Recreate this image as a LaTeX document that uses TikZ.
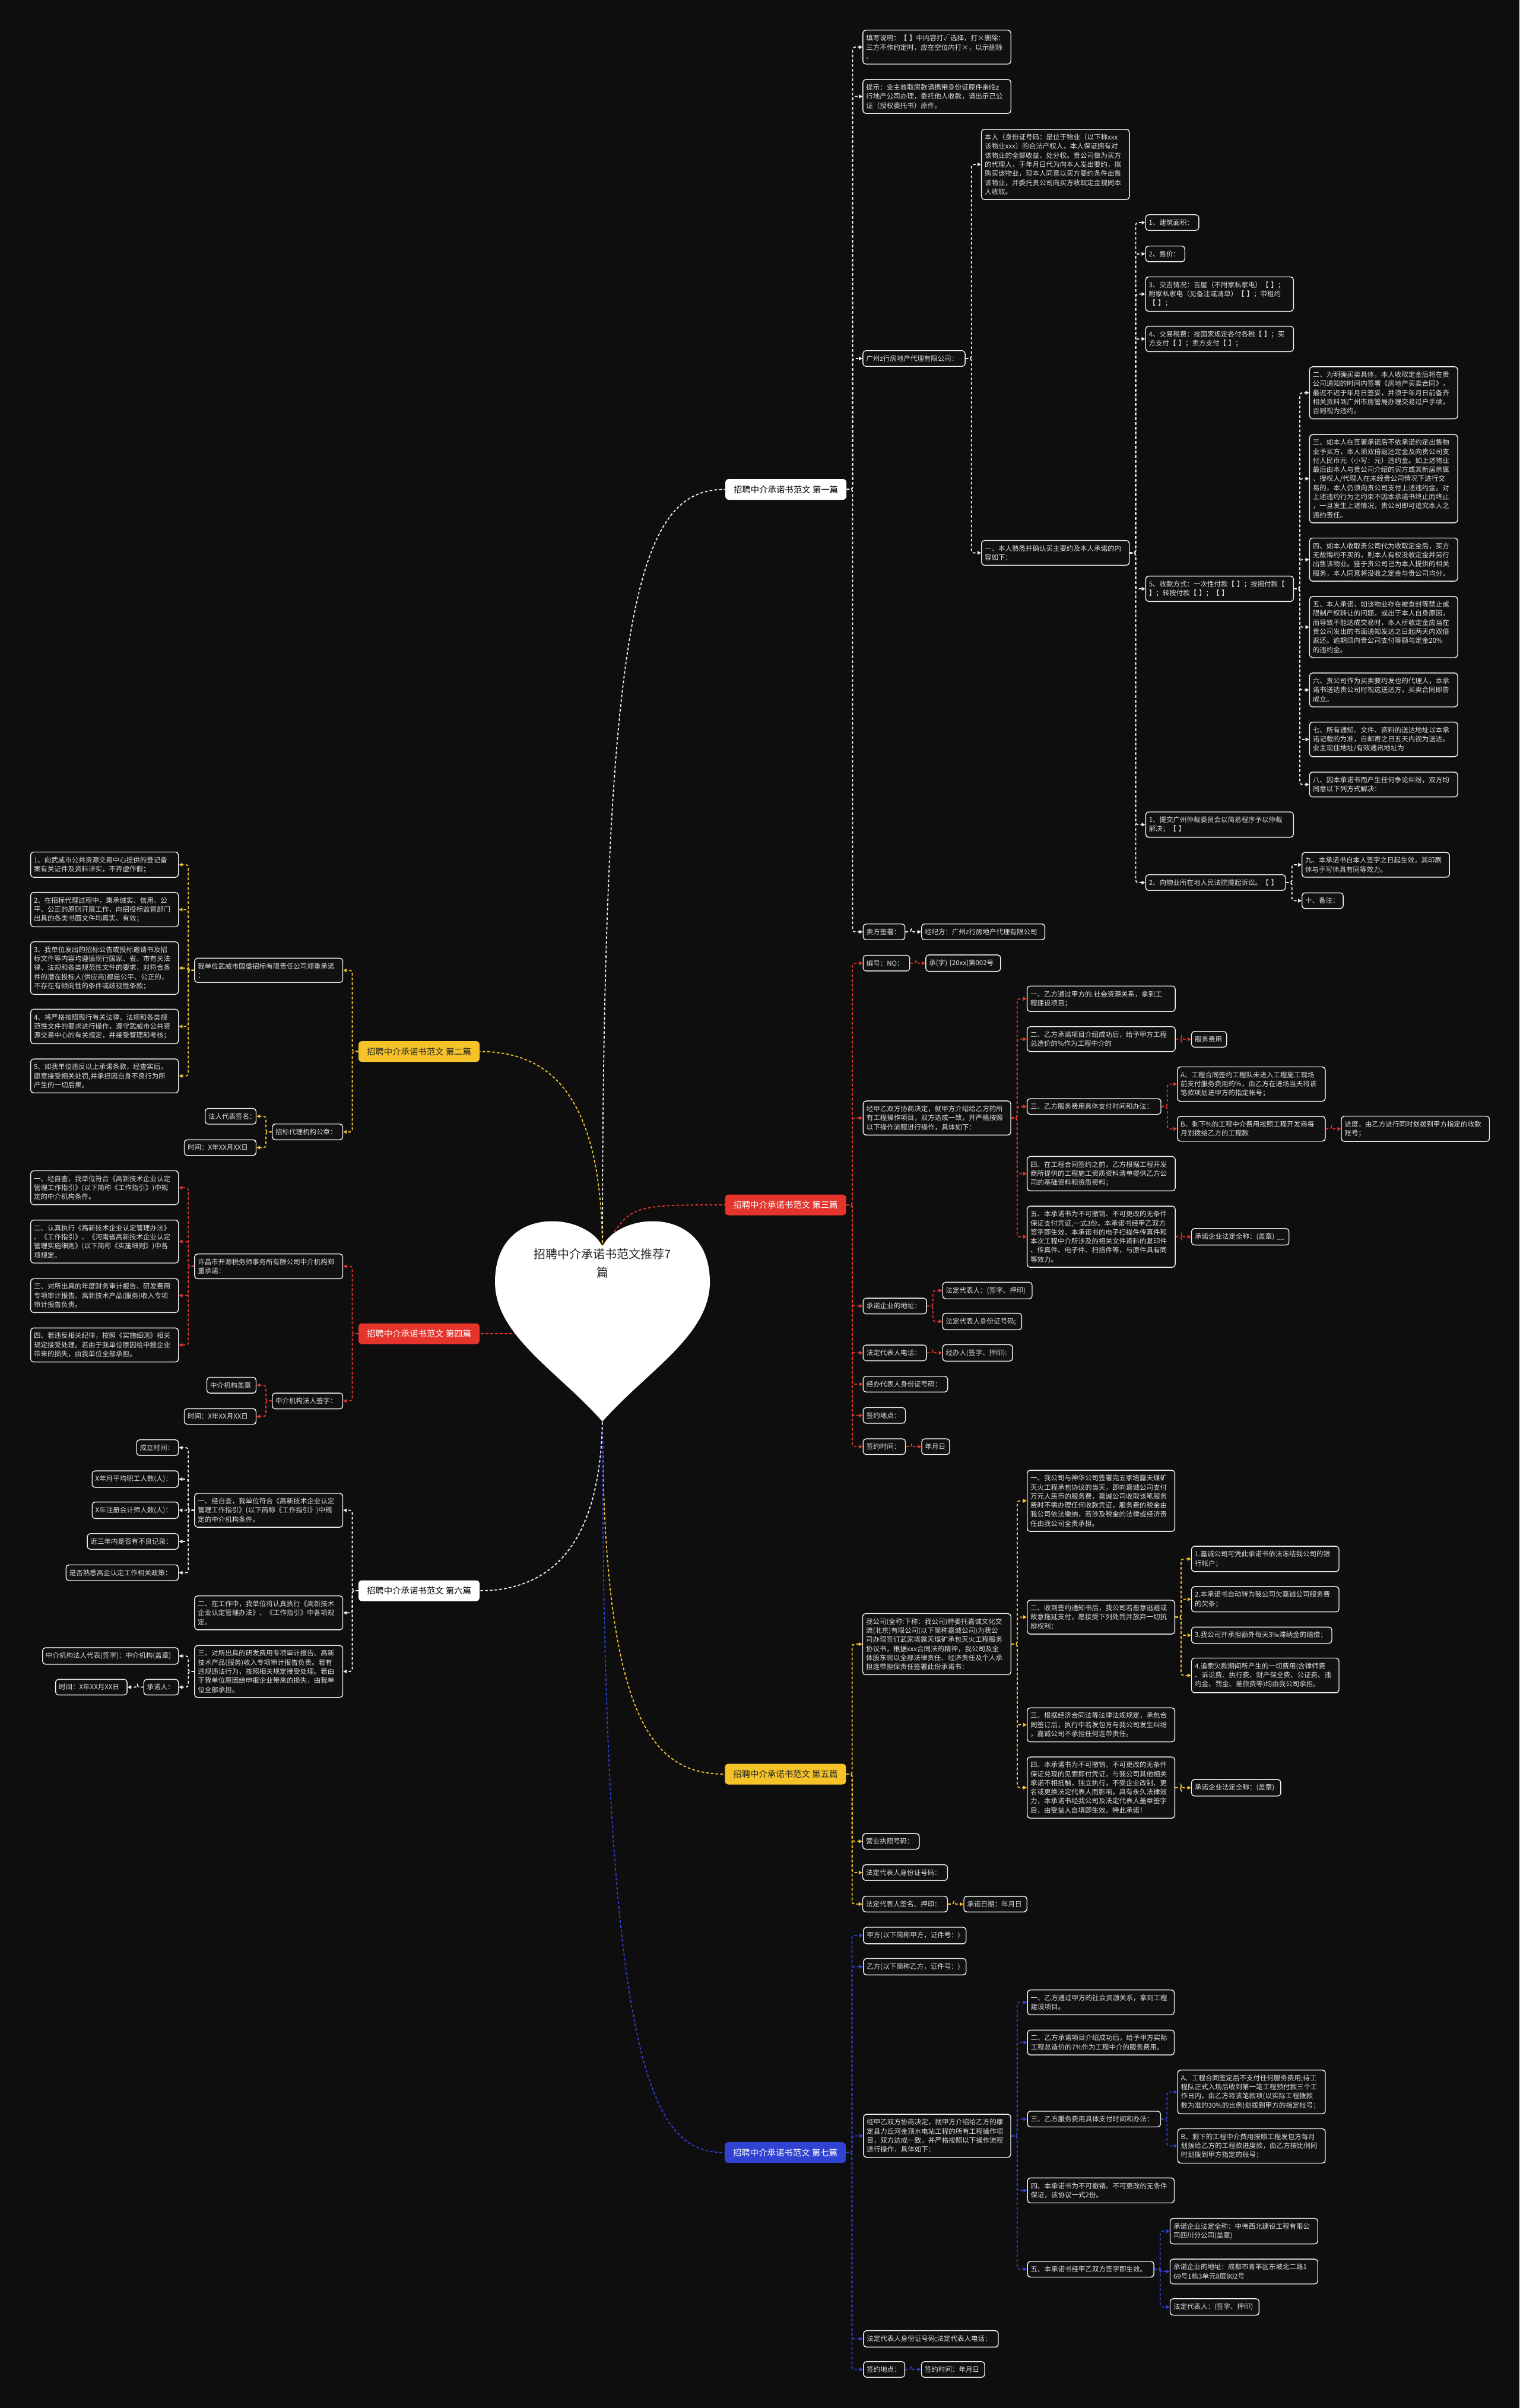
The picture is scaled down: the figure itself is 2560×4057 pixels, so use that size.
\documentclass[tikz,border=0pt]{standalone}
\usepackage{fontspec}
\setmainfont{Noto Sans CJK SC}
\usetikzlibrary{arrows.meta}
\definecolor{bgc}{RGB}{14,14,14}
\definecolor{boxf}{RGB}{17,17,17}
\definecolor{txt}{RGB}{222,222,222}
\definecolor{cw}{RGB}{240,240,240}
\definecolor{cy}{RGB}{245,195,40}
\definecolor{cr}{RGB}{228,52,44}
\definecolor{cb}{RGB}{48,66,210}
\pgfdeclarelayer{bg}
\pgfsetlayers{bg,main}
\tikzset{
 bx/.style={draw=cw, fill=boxf, text=txt, rounded corners=2.5pt, line width=0.7pt, align=left,
   inner xsep=2.75pt, inner ysep=3.95pt, font=\fontsize{5.75pt}{7.65pt}\selectfont, anchor=west},
 lab/.style={rounded corners=3pt, minimum height=17.5pt, inner xsep=7pt, inner ysep=0pt,
   font=\fontsize{7.2pt}{8pt}\selectfont},
 cn/.style={dash pattern=on 2.3pt off 1.7pt, line width=0.9pt, rounded corners=2pt,
   -{Triangle[length=3pt,width=3pt]}},
 rc/.style={dash pattern=on 2.3pt off 1.7pt, line width=0.9pt},
}
\newcommand\R[5]{\pgfmathsetlengthmacro\tw{(#4-11)*0.5pt}\node[bx,text width=\tw] (#1) at (#2,#3) {#5};}
\newcommand\CR[3]{\draw[cn,#1] (#2.east) -- ++(10,0) |- (#3.west);}
\newcommand\CL[3]{\draw[cn,#1] (#2.west) -- ++(-10,0) |- (#3.east);}
\begin{document}
\begin{tikzpicture}[x=0.5pt,y=-0.5pt]
\useasboundingbox (0,0) rectangle (2560,4057);
% ---------- branch labels
\node[lab, fill=white, text=black, anchor=east] (L1) at (1426.5,824.5) {招聘中介承诺书范文 第一篇};
\node[lab, fill=cy, text=black!85, anchor=west] (L2) at (603.6,1771.6) {招聘中介承诺书范文 第二篇};
\node[lab, fill=cr, text=white, anchor=east] (L3) at (1426,2030) {招聘中介承诺书范文 第三篇};
\node[lab, fill=cr, text=white, anchor=west] (L4) at (603.6,2247) {招聘中介承诺书范文 第四篇};
\node[lab, fill=cy, text=black!85, anchor=east] (L5) at (1425.8,2989) {招聘中介承诺书范文 第五篇};
\node[lab, fill=white, text=black, anchor=west] (L6) at (603.6,2680) {招聘中介承诺书范文 第六篇};
\node[lab, fill=cb, text=white, anchor=east] (L7) at (1425.5,3626.6) {招聘中介承诺书范文 第七篇};
\coordinate (rt) at (1015,2110);
\coordinate (rb) at (1015,2380);
\coordinate (rm) at (1015,2247);
\begin{pgfonlayer}{bg}
\fill[bgc] (0,0) rectangle (2560,4057);
\draw[rc,cw] (rt) .. controls (1015,1000) and (1080,824.5) .. (L1.west);
\draw[rc,cr] (rt) .. controls (1060,2030) .. (L3.west);
\draw[rc,cy] (rb) .. controls (1015,2900) and (1100,2989) .. (L5.west);
\draw[rc,cb] (rb) .. controls (1015,3500) and (1100,3626.6) .. (L7.west);
\draw[rc,cy] (rt) .. controls (1015,1850) and (930,1771.6) .. (L2.east);
\draw[rc,cr] (rm) -- (L4.east);
\draw[rc,cw] (rb) .. controls (1015,2600) and (930,2680) .. (L6.east);
\fill[white] (1015,2100) .. controls (1045,2040) and (1196,2030) .. (1196,2160)
  .. controls (1196,2250) and (1090,2310) .. (1015,2395)
  .. controls (940,2310) and (834,2250) .. (834,2160)
  .. controls (834,2030) and (985,2040) .. (1015,2100) -- cycle;
\end{pgfonlayer}
\node[align=center, text=black!85, font=\fontsize{10pt}{15.5pt}\selectfont] (root) at (1015,2128) {招聘中介承诺书范文推荐7\\篇};
% ---------- branch 1
\R{a1}{1453.2}{79.4}{249.3}{填写说明：【~】中内容打√选择，打×删除：\\三方不作约定时，应在空位内打×，以示删除\\。}
\R{a2}{1453.2}{162.5}{249.3}{提示：业主收取房款请携带身份证原件亲临z\\行地产公司办理，委托他人收款，请出示己公\\证（授权委托书）原件。}
\R{a3}{1453.2}{604}{172.2}{广州z行房地产代理有限公司：}
\R{a4}{1453.6}{1570}{70.4}{卖方签署：}
\R{a41}{1552}{1570}{207.7}{经纪方：广州z行房地产代理有限公司}
\R{a31}{1652.9}{277}{249.2}{本人（身份证号码：是位于物业（以下称xxx\\该物业xxx）的合法产权人，本人保证拥有对\\该物业的全部收益、处分权。贵公司做为买方\\的代理人，于年月日代为向本人发出要约，拟\\购买该物业，现本人同意以买方要约条件出售\\该物业，并委托贵公司向买方收取定金视同本\\人收取。}
\R{a32}{1653}{931.5}{249}{一、本人熟悉并确认买主要约及本人承诺的内\\容如下：}
\R{b1}{1929.5}{375}{89.6}{1、建筑面积：}
\R{b2}{1929.5}{427.7}{66}{2、售价：}
\R{b3}{1929.5}{495.5}{249.1}{3、交吉情况：吉屋（不附家私家电）【~】；\\附家私家电（见备注或清单）【~】；带租约\\【~】；}
\R{b4}{1929.5}{571}{249.1}{4、交易税费：按国家规定各付各税【~】；买\\方支付【~】；卖方支付【~】；}
\R{b5}{1929.6}{992}{249}{5、收款方式：一次性付款【~】；按揭付款【\\】；转按付款【~】；【~】}
\R{b6}{1929.6}{1389.3}{249}{1、提交广州仲裁委员会以简易程序予以仲裁\\解决；【~】}
\R{b7}{1929.6}{1487}{235.7}{2、向物业所在地人民法院提起诉讼。【~】}
\R{c2}{2205.7}{661.7}{249.6}{二、为明确买卖具体，本人收取定金后将在贵\\公司通知的时间内签署《房地产买卖合同》，\\最迟不迟于年月日签妥，并须于年月日前备齐\\相关资料到广州市房管局办理交易过户手续，\\否则视为违约。}
\R{c3}{2205.7}{806.5}{249.6}{三、如本人在签署承诺后不依承诺约定出售物\\业予买方，本人须双倍返还定金及向贵公司支\\付人民币元（小写：元）违约金。如上述物业\\最后由本人与贵公司介绍的买方或其新居亲属\\、授权人/代理人在未经贵公司情况下进行交\\易的，本人仍须向贵公司支付上述违约金。对\\上述违约行为之约束不因本承诺书终止而终止\\，一旦发生上述情况，贵公司即可追究本人之\\违约责任。}
\R{c4}{2205.7}{942.8}{249.6}{四、如本人收取贵公司代为收取定金后，买方\\无故悔约不买的，则本人有权没收定金并另行\\出售该物业。鉴于贵公司己为本人提供的相关\\服务，本人同意将没收之定金与贵公司均分。}
\R{c5}{2205.7}{1056.5}{249.6}{五、本人承诺，如该物业存在被查封等禁止或\\限制产权转让的问题，或出于本人自身原因，\\而导致不能达成交易时，本人所收定金应当在\\贵公司发出的书面通知发达之日起两天内双倍\\返还。逾期须向贵公司支付等额与定金20\%\\的违约金。}
\R{c6}{2205.7}{1162.4}{249.6}{六、贵公司作为买卖要约发也的代理人，本承\\诺书送达贵公司时视这送达方，买卖合同即告\\成立。}
\R{c7}{2205.7}{1245.7}{249.6}{七、所有通知、文件、资料的送达地址以本承\\诺记载的为准，自邮寄之日五天内视为送达。\\业主现住地址/有效通讯地址为}
\R{c8}{2205.7}{1321.7}{249.6}{八、因本承诺书而产生任何争论纠纷，双方均\\同意以下列方式解决：}
\R{c9}{2193}{1457}{248.4}{九、本承诺书自本人签字之日起生效，其印刷\\体与手写体具有同等效力。}
\R{c10}{2193}{1517.5}{69.4}{十、备注：}
\foreach \c in {a1,a2,a3,a4} {\CR{cw}{L1}{\c}}
\CR{cw}{a4}{a41}
\CR{cw}{a3}{a31}
\CR{cw}{a3}{a32}
\foreach \c in {b1,b2,b3,b4,b5,b6,b7} {\CR{cw}{a32}{\c}}
\foreach \c in {c2,c3,c4,c5,c6,c7,c8} {\CR{cw}{b5}{\c}}
\CR{cw}{b7}{c9}
\CR{cw}{b7}{c10}
% ---------- branch 3
\R{d1}{1453.6}{1622.7}{78.4}{编号：NO：}
\R{d11}{1559.2}{1622.7}{125.9}{承(字)~[20xx]第002号}
\R{d2}{1453.6}{1883.6}{248.7}{经甲乙双方协商决定，就甲方介绍给乙方的所\\有工程操作项目，双方达成一致，并严格按照\\以下操作流程进行操作，具体如下：}
\R{e1}{1729.9}{1682.7}{249.5}{一、乙方通过甲方的.社会资源关系，拿到工\\程建设项目；}
\R{e2}{1729.9}{1750.7}{249.5}{二、乙方承诺项目介绍成功后，给予甲方工程\\总造价的\%作为工程中介的}
\R{e3}{1729.9}{1864.2}{225.4}{三、乙方服务费用具体支付时间和办法：}
\R{e4}{1729.9}{1977.4}{249.5}{四、在工程合同签约之前，乙方根据工程开发\\商所提供的工程施工资质资料清单提供乙方公\\司的基础资料和资质资料；}
\R{e5}{1729.9}{2083.6}{249.5}{五、本承诺书为不可撤销、不可更改的无条件\\保证支付凭证,一式3份。本承诺书经甲乙双方\\签字即生效。本承诺书的电子扫描件传真件和\\本次工程中介所涉及的相关文件资料的复印件\\、传真件、电子件、扫描件等，与原件具有同\\等效力。}
\R{e21}{2006.8}{1751}{59.2}{服务费用}
\R{e31}{1983}{1826.5}{249.1}{A、工程合同签约工程队未进入工程施工现场\\前支付服务费用的\%，由乙方在进场当天将该\\笔款项划进甲方的指定帐号；}
\R{e32}{1983}{1901.8}{249.1}{B、剩下\%的工程中介费用按照工程开发商每\\月划拨给乙方的工程款}
\R{e33}{2259.3}{1901.8}{249.5}{进度，由乙方进行同时划拨到甲方指定的收款\\账号；}
\R{e51}{2006.8}{2083.7}{164.2}{承诺企业法定全称：(盖章)~\_\_}
\R{d3}{1453.6}{2200.4}{106.8}{承诺企业的地址：}
\R{d31}{1587.5}{2174.3}{150.8}{法定代表人：(签字、押印)}
\R{d32}{1587.5}{2226.5}{133.2}{法定代表人身份证号码;}
\R{d4}{1453.6}{2279.3}{106.8}{法定代表人电话：}
\R{d41}{1587.5}{2279.3}{117.9}{经办人(签字、押印):}
\R{d5}{1453.6}{2332}{142.4}{经办代表人身份证号码：}
\R{d6}{1453.6}{2384.7}{71.2}{签约地点：}
\R{d7}{1453.6}{2437.3}{71.2}{签约时间：}
\R{d71}{1552.3}{2437.3}{47.1}{年月日}
\foreach \c in {d1,d2,d3,d4,d5,d6,d7} {\CR{cr}{L3}{\c}}
\CR{cr}{d1}{d11}
\foreach \c in {e1,e2,e3,e4,e5} {\CR{cr}{d2}{\c}}
\CR{cr}{e2}{e21}
\CR{cr}{e3}{e31}
\CR{cr}{e3}{e32}
\CR{cr}{e32}{e33}
\CR{cr}{e5}{e51}
\CR{cr}{d3}{d31}
\CR{cr}{d3}{d32}
\CR{cr}{d4}{d41}
\CR{cr}{d7}{d71}
% ---------- branch 2
\R{f1}{327.2}{1634.8}{249.6}{我单位武威市国盛招标有限责任公司郑重承诺\\：}
\R{f11}{50.9}{1456.8}{249.1}{1、向武威市公共资源交易中心提供的登记备\\案有关证件及资料详实，不弄虚作假；}
\R{f12}{50.9}{1532.5}{249.1}{2、在招标代理过程中，秉承诚实、信用、公\\平、公正的原则开展工作，向招投标监管部门\\出具的各类书面文件均真实、有效；}
\R{f13}{50.9}{1631}{249.1}{3、我单位发出的招标公告或投标邀请书及招\\标文件等内容均遵循现行国家、省、市有关法\\律、法规和各类规范性文件的要求，对符合条\\件的潜在投标人(供应商)都是公平、公正的，\\不存在有倾向性的条件或歧视性条款；}
\R{f14}{50.9}{1729.4}{249.1}{4、将严格按照现行有关法律、法规和各类规\\范性文件的要求进行操作，遵守武威市公共资\\源交易中心的有关规定，并接受管理和考核；}
\R{f15}{50.9}{1812.7}{249.1}{5、如我单位违反以上承诺条款，经查实后，\\愿意接受相关处罚,并承担因自身不良行为所\\产生的一切后果。}
\R{f2}{458}{1907}{118.8}{招标代理机构公章：}
\R{f21}{345}{1880.7}{85.8}{法人代表签名：}
\R{f22}{309.8}{1933.5}{121}{时间：X年XX月XX日}
\CL{cy}{L2}{f1}
\CL{cy}{L2}{f2}
\foreach \c in {f11,f12,f13,f14,f15} {\CL{cy}{f1}{\c}}
\CL{cy}{f2}{f21}
\CL{cy}{f2}{f22}
% ---------- branch 4
\R{g1}{327.2}{2133.5}{249.6}{许昌市开源税务师事务所有限公司中介机构郑\\重承诺：}
\R{g11}{50.9}{2001}{249.1}{一、经自查，我单位符合《高新技术企业认定\\管理工作指引》(以下简称《工作指引》)中规\\定的中介机构条件。}
\R{g12}{50.9}{2091.8}{249.1}{二、认真执行《高新技术企业认定管理办法》\\、《工作指引》、《河南省高新技术企业认定\\管理实施细则》(以下简称《实施细则》)中各\\项规定。}
\R{g13}{50.9}{2182.8}{249.1}{三、对所出具的年度财务审计报告、研发费用\\专项审计报告、高新技术产品(服务)收入专项\\审计报告负责。}
\R{g14}{50.9}{2266}{249.1}{四、若违反相关纪律，按照《实施细则》相关\\规定接受处理。若由于我单位原因给申报企业\\带来的损失，由我单位全部承担。}
\R{g2}{458}{2360.3}{118.8}{中介机构法人签字：}
\R{g21}{347.8}{2333.8}{83}{中介机构盖章}
\R{g22}{309.8}{2386.5}{121}{时间：X年XX月XX日}
\CL{cr}{L4}{g1}
\CL{cr}{L4}{g2}
\foreach \c in {g11,g12,g13,g14} {\CL{cr}{g1}{\c}}
\CL{cr}{g2}{g21}
\CL{cr}{g2}{g22}
% ---------- branch 6
\R{h1}{327.2}{2544.5}{249.6}{一、经自查，我单位符合《高新技术企业认定\\管理工作指引》(以下简称《工作指引》)中规\\定的中介机构条件。}
\R{h2}{327.2}{2717.3}{249.6}{二、在工作中，我单位将认真执行《高新技术\\企业认定管理办法》、《工作指引》中各项规\\定。}
\R{h3}{327.2}{2816}{249.6}{三、对所出具的研发费用专项审计报告、高新\\技术产品(服务)收入专项审计报告负责。若有\\违规违法行为，按照相关规定接受处理。若由\\于我单位原因给申报企业带来的损失，由我单\\位全部承担。}
\R{h11}{229.5}{2439}{70.5}{成立时间：}
\R{h12}{154.5}{2492}{145.5}{X年月平均职工人数(人)：}
\R{h13}{154.5}{2544.5}{145.5}{X年注册会计师人数(人)：}
\R{h14}{146.4}{2597}{153.6}{近三年内是否有不良记录：}
\R{h15}{110.7}{2649.7}{189.3}{是否熟悉高企认定工作相关政策：}
\R{h31}{71}{2790}{229}{中介机构法人代表(签字)：中介机构(盖章)}
\R{h32}{241.5}{2842.5}{58.5}{承诺人：}
\R{h321}{92.9}{2842.5}{120.5}{时间：X年XX月XX日}
\foreach \c in {h1,h2,h3} {\CL{cw}{L6}{\c}}
\foreach \c in {h11,h12,h13,h14,h15} {\CL{cw}{h1}{\c}}
\CL{cw}{h3}{h31}
\CL{cw}{h3}{h32}
\CL{cw}{h32}{h321}
% ---------- branch 5
\R{k1}{1452.8}{2770}{249.7}{我公司(全称:下称：我公司)特委托嘉诚文化交\\流(北京)有限公司(以下简称嘉诚公司)为我公\\司办理签订武家塔露天煤矿承包灭火工程服务\\协议书，根据xxx合同法的精神，我公司及全\\体股东现以全部法律责任、经济责任及个人承\\担连带担保责任签署此份承诺书：}
\R{k11}{1730}{2528.6}{248.6}{一、我公司与神华公司签署完五家塔露天煤矿\\灭火工程承包协议的当天，即向嘉诚公司支付\\万元人民币的服务费，嘉诚公司收取该笔服务\\费时不需办理任何收款凭证，服务费的税金由\\我公司依法缴纳，若涉及税金的法律或经济责\\任由我公司全责承担。}
\R{k12}{1730}{2724.5}{248.6}{二、收到签约通知书后，我公司若恶意逃避或\\故意拖延支付，愿接受下列处罚并放弃一切抗\\辩权利：}
\R{k13}{1730}{2906}{248.6}{三、根据经济合同法等法律法规规定，承包合\\同签订后，执行中若发包方与我公司发生纠纷\\，嘉诚公司不承担任何连带责任。}
\R{k14}{1730}{3011.7}{248.6}{四、本承诺书为不可撤销、不可更改的无条件\\保证兑现的见索即付凭证，与我公司其他相关\\承诺不相抵触，独立执行，不受企业改制、更\\名或更换法定代表人而影响，具有永久法律效\\力，本承诺书经我公司及法定代表人盖章签字\\后，由受益人自填即生效。特此承诺！}
\R{k121}{2006.8}{2626.5}{248.5}{1.嘉诚公司可凭此承诺书依法冻结我公司的银\\行帐户；}
\R{k122}{2006.8}{2694.4}{248.5}{2.本承诺书自动转为我公司欠嘉诚公司服务费\\的欠条；}
\R{k123}{2006.8}{2755}{236.5}{3.我公司并承担额外每天3‰滞纳金的赔偿；}
\R{k124}{2006.8}{2822.7}{248.5}{4.追索欠款期间所产生的一切费用(含律师费\\、诉讼费、执行费、财产保全费、公证费、违\\约金、罚金、差旅费等)均由我公司承担。}
\R{k141}{2006.8}{3012}{150.4}{承诺企业法定全称：(盖章)}
\R{k2}{1452.8}{3102.3}{95.3}{营业执照号码：}
\R{k3}{1452.8}{3154.9}{143}{法定代表人身份证号码：}
\R{k4}{1452.8}{3208}{143}{法定代表人签名、押印：}
\R{k41}{1623.3}{3208}{106.2}{承诺日期：年月日}
\foreach \c in {k1,k2,k3,k4} {\CR{cy}{L5}{\c}}
\foreach \c in {k11,k12,k13,k14} {\CR{cy}{k1}{\c}}
\foreach \c in {k121,k122,k123,k124} {\CR{cy}{k12}{\c}}
\CR{cy}{k14}{k141}
\CR{cy}{k4}{k41}
% ---------- branch 7
\R{m1}{1454.2}{3260.9}{172.8}{甲方(以下简称甲方，证件号：)}
\R{m2}{1454.2}{3313.5}{172.8}{乙方(以下简称乙方，证件号：)}
\R{m3}{1454.2}{3598.4}{248.1}{经甲乙双方协商决定，就甲方介绍给乙方的康\\定县力丘河金顶水电站工程的所有工程操作项\\目，双方达成一致，并严格按照以下操作流程\\进行操作，具体如下：}
\R{n1}{1730.4}{3373.5}{247.4}{一、乙方通过甲方的社会资源关系，拿到工程\\建设项目。}
\R{n2}{1730.4}{3441.2}{247.4}{二、乙方承诺项目介绍成功后，给予甲方实际\\工程总造价的7\%作为工程中介的服务费用。}
\R{n3}{1730.4}{3570.2}{224.4}{三、乙方服务费用具体支付时间和办法：}
\R{n4}{1730.4}{3690.4}{247.4}{四、本承诺书为不可撤销、不可更改的无条件\\保证，该协议一式2份。}
\R{n5}{1730.4}{3823.2}{213}{五、本承诺书经甲乙双方签字即生效。}
\R{n31}{1983.5}{3524.5}{248.8}{A、工程合同签定后不支付任何服务费用;待工\\程队正式入场后收到第一笔工程预付款三个工\\作日内，由乙方将该笔款项(以实际工程拨款\\数为准的30\%的比例)划拨到甲方的指定帐号；}
\R{n32}{1983.5}{3615.5}{248.8}{B、剩下的工程中介费用按照工程发包方每月\\划拨给乙方的工程款进度款，由乙方按比例同\\时划拨到甲方指定的账号；}
\R{n51}{1970.8}{3759}{248.7}{承诺企业法定全称：中伟西北建设工程有限公\\司四川分公司(盖章)}
\R{n52}{1970.8}{3827}{248.7}{承诺企业的地址：成都市青羊区东坡北二路1\\69号1栋3单元8层802号}
\R{n53}{1970.8}{3886.7}{149.9}{法定代表人：(签字、押印)}
\R{m4}{1454.2}{3940.5}{227.1}{法定代表人身份证号码;法定代表人电话：}
\R{m5}{1454.2}{3992}{69.5}{签约地点：}
\R{m51}{1551.8}{3992}{106.5}{签约时间：年月日}
\foreach \c in {m1,m2,m3,m4,m5} {\CR{cb}{L7}{\c}}
\foreach \c in {n1,n2,n3,n4,n5} {\CR{cb}{m3}{\c}}
\CR{cb}{n3}{n31}
\CR{cb}{n3}{n32}
\foreach \c in {n51,n52,n53} {\CR{cb}{n5}{\c}}
\CR{cb}{m5}{m51}
\end{tikzpicture}
\end{document}
